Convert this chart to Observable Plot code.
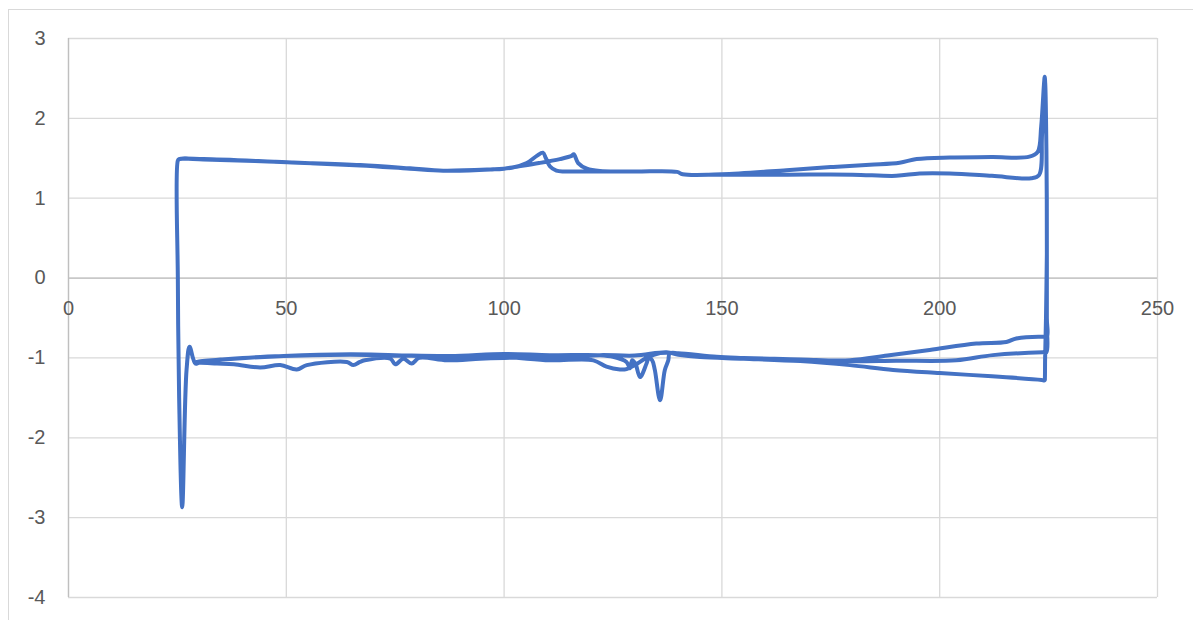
<!DOCTYPE html>
<html>
<head>
<meta charset="utf-8">
<script src="https://cdn.jsdelivr.net/npm/d3@7"></script>
<script src="https://cdn.jsdelivr.net/npm/@observablehq/plot@0.6"></script>
<style>
  html, body { margin: 0; padding: 0; background: #fff; overflow: hidden; }
  #wrap { position: relative; width: 1193px; height: 620px; overflow: hidden; }
  #frame { position: absolute; left: 8px; top: 9px; width: 1300px; height: 700px; border: 1px solid #d9d9d9; box-sizing: border-box; }
  #chart { position: absolute; left: 0; top: 0; }
</style>
</head>
<body>
<div id="wrap"><div id="frame"></div><div id="chart"></div></div>
<script>
const xTicks = [0, 50, 100, 150, 200, 250];
const yTicks = [-4, -3, -2, -1, 0, 1, 2, 3];

// pass 1: lowest bottom line, heading left, then the left dip and up
const bottomLow = [
  [224.6, 0.3], [224.4, -0.5], [224.2, -1.0], [224.15, -1.25], [224.1, -1.28], [223.4, -1.275],
  [212, -1.23], [200, -1.19],
  [189.3, -1.15], [179.4, -1.09], [168, -1.04], [155, -1.01], [145, -0.99], [140, -0.96],
  [137.3, -0.93], [130, -0.97], [122, -0.965], [115, -0.99], [109.8, -0.99], [100, -1.0],
  [94.5, -1.01], [86.9, -1.03], [80.5, -1.0], [78.8, -1.07], [76.9, -1.01], [75, -1.08],
  [73.9, -1.01], [68, -1.03], [66.9, -1.05], [65.4, -1.09], [63.9, -1.05], [54.7, -1.09],
  [52.4, -1.145], [48.6, -1.09], [44, -1.12], [38, -1.08], [34.1, -1.07], [30, -1.06],
  [29.1, -1.07], [27.8, -0.86], [27.1, -1.15], [26.1, -2.87], [25.4, -1.5], [25.1, 0], [25.1, 1.47]
];
// top line A heading right (bump near 109), lower top line, spike
const topA = [
  [25.4, 1.49], [31, 1.49], [50.2, 1.45], [67, 1.415], [78.4, 1.375], [86, 1.345], [96.8, 1.36],
  [102, 1.385], [105.2, 1.44], [107.5, 1.53], [108.9, 1.57], [109.6, 1.5], [110.5, 1.40],
  [112, 1.345], [114, 1.335], [120, 1.335], [130, 1.335], [139.7, 1.33], [141, 1.30],
  [150, 1.295], [165, 1.295], [180, 1.295], [190, 1.28], [195.4, 1.31], [202.3, 1.31],
  [212, 1.28], [221, 1.25], [222.8, 1.29], [223.5, 1.8], [224.1, 2.52], [224.5, 1.6],
  [224.6, 0.3], [224.5, -0.5], [224.5, -0.93]
];
// pass 2: middle bottom line heading left (lobe near 126)
const bottomMid = [
  [223.7, -0.93], [212.2, -0.965], [203.8, -1.03], [190, -1.035], [179.4, -1.04], [168, -1.02],
  [150, -0.99], [140, -0.95], [138, -0.935], [135.8, -0.94], [132.7, -1.0], [130, -1.09],
  [128.1, -1.14], [126.6, -1.145], [123.5, -1.11], [120.5, -1.03], [110.5, -1.03], [100, -0.99],
  [87.6, -0.985], [64.7, -0.96], [49.4, -0.977], [40, -1.0], [30, -1.05], [29.1, -1.06],
  [27.8, -0.88], [27.1, -1.15], [26.1, -2.85], [25.4, -1.5], [25.1, 0], [25.1, 1.47]
];
// top line B heading right (bump near 116), upper top line, spike
const topB = [
  [25.4, 1.49], [31, 1.485], [50.2, 1.45], [67, 1.41], [78.4, 1.37], [86, 1.345], [96.8, 1.36],
  [100, 1.37], [102.9, 1.395], [108, 1.44], [112.8, 1.49], [115.5, 1.53], [116, 1.55],
  [117, 1.44], [119, 1.37], [122, 1.34], [130, 1.335], [139.7, 1.33], [141, 1.30], [150, 1.30],
  [164.8, 1.35], [175, 1.39], [184, 1.42], [190.8, 1.445], [194.7, 1.49], [202.3, 1.51],
  [212, 1.515], [220.6, 1.52], [222.5, 1.58], [223.3, 1.9], [224.1, 2.5], [224.5, 1.6],
  [224.6, 0.3], [224.6, -0.5], [224.6, -0.74]
];
// pass 3: upper bottom line heading left (dips near 131 and 136)
const bottomHigh = [
  [223.7, -0.735], [217.6, -0.756], [215.3, -0.80], [208.4, -0.82], [197.7, -0.90], [188, -0.97],
  [179.4, -1.03], [168, -1.02], [155, -1.0], [148.8, -0.986], [140, -0.94], [138, -0.944],
  [137.7, -1.03], [136.9, -1.15], [135.8, -1.53], [134.6, -1.15], [134, -1.03], [133.2, -1.0],
  [132.7, -1.07], [131.2, -1.24], [130.2, -1.08], [129.4, -1.03], [128.9, -1.13], [128.1, -1.05],
  [125, -0.985], [122, -0.965], [110.5, -0.965], [100, -0.95], [87.6, -0.975], [75, -0.965],
  [64.7, -0.955], [49.4, -0.975], [38, -1.01], [30, -1.045], [29, -1.06]
];

const path = [...bottomLow, ...topA, ...bottomMid, ...topB, ...bottomHigh];

const font = "'Liberation Sans', Arial, sans-serif";
const chart = Plot.plot({
  width: 1193,
  height: 620,
  marginLeft: 68,
  marginRight: 36,
  marginTop: 38,
  marginBottom: 23,
  style: { fontFamily: font, background: "transparent", overflow: "visible" },
  x: { domain: [0, 250], axis: null },
  y: { domain: [-4, 3], axis: null },
  marks: [
    Plot.gridX(xTicks, { stroke: "#d9d9d9", strokeOpacity: 1, strokeWidth: 1.3 }),
    Plot.gridY(yTicks, { stroke: "#d9d9d9", strokeOpacity: 1, strokeWidth: 1.3 }),
    Plot.ruleY([0], { stroke: "#bfbfbf", strokeWidth: 1.3 }),
    Plot.ruleX([0], { stroke: "#bfbfbf", strokeWidth: 1.3 }),
    Plot.line(path, {
      x: d => d[0], y: d => d[1],
      stroke: "#4472C4", strokeWidth: 4, strokeLinejoin: "round", strokeLinecap: "round",
      curve: "catmull-rom"
    }),
    Plot.text(yTicks, {
      x: () => 0, y: d => d, text: d => String(d), dx: -23, textAnchor: "end",
      fontSize: 20, fill: "#595959"
    }),
    Plot.text(xTicks, {
      x: d => d, y: () => 0, text: d => String(d), dy: 31, textAnchor: "middle",
      fontSize: 20, fill: "#595959"
    })
  ]
});
document.getElementById("chart").appendChild(chart);
</script>
</body>
</html>
